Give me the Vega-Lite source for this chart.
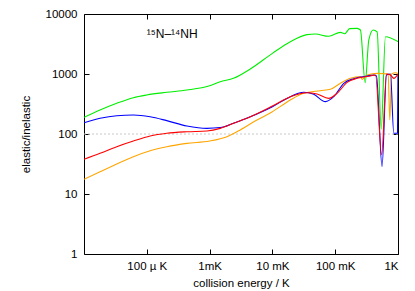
{
  "$schema": "https://vega.github.io/schema/vega-lite/v6.json",
  "width": 314,
  "height": 240,
  "autosize": {"type": "none"},
  "padding": {"left": 84, "top": 14, "right": 17, "bottom": 37},
  "background": "white",
  "config": {
    "view": {"stroke": "black", "strokeWidth": 1},
    "font": "Liberation Sans",
    "axis": {"grid": false, "domain": false, "labelFont": "Liberation Sans", "titleFont": "Liberation Sans", "labelFontSize": 11.5, "titleFontSize": 11.5, "titleFontWeight": "normal", "labelColor": "black", "titleColor": "black", "tickColor": "black", "tickWidth": 1}
  },
  "datasets": {
    "curves": [
      {"s": "s1", "E": 1e-5, "r": 190}, {"s": "s1", "E": 1.8e-5, "r": 251}, {"s": "s1", "E": 3.32e-5, "r": 325}, {"s": "s1", "E": 6.11e-5, "r": 403}, {"s": "s1", "E": 1e-4, "r": 447}, {"s": "s1", "E": 2.08e-4, "r": 495}, {"s": "s1", "E": 4.35e-4, "r": 541}, {"s": "s1", "E": 1e-3, "r": 639}, {"s": "s1", "E": 1.476e-3, "r": 745}, {"s": "s1", "E": 2.4e-3, "r": 847}, {"s": "s1", "E": 4.45e-3, "r": 1212}, {"s": "s1", "E": 0.01, "r": 2208}, {"s": "s1", "E": 0.0193, "r": 3460}, {"s": "s1", "E": 0.0356, "r": 4526}, {"s": "s1", "E": 0.0483, "r": 4642}, {"s": "s1", "E": 0.0787, "r": 4246}, {"s": "s1", "E": 0.121, "r": 4947}, {"s": "s1", "E": 0.142, "r": 4699}, {"s": "s1", "E": 0.17, "r": 5700}, {"s": "s1", "E": 0.223, "r": 5770}, {"s": "s1", "E": 0.252, "r": 5412}, {"s": "s1", "E": 0.3, "r": 717}, {"s": "s1", "E": 0.343, "r": 3690}, {"s": "s1", "E": 0.402, "r": 5412}, {"s": "s1", "E": 0.466, "r": 5012}, {"s": "s1", "E": 0.54, "r": 120}, {"s": "s1", "E": 0.631, "r": 4188}, {"s": "s1", "E": 1.0, "r": 3460},
      {"s": "s2", "E": 1e-5, "r": 17.6}, {"s": "s2", "E": 1.8e-5, "r": 23.5}, {"s": "s2", "E": 3.32e-5, "r": 31.6}, {"s": "s2", "E": 6.11e-5, "r": 41.9}, {"s": "s2", "E": 1.13e-4, "r": 52.7}, {"s": "s2", "E": 2.08e-4, "r": 61.5}, {"s": "s2", "E": 4.35e-4, "r": 69.8}, {"s": "s2", "E": 1e-3, "r": 76.4}, {"s": "s2", "E": 1.89e-3, "r": 90.3}, {"s": "s2", "E": 3.08e-3, "r": 117}, {"s": "s2", "E": 5.68e-3, "r": 171}, {"s": "s2", "E": 0.01, "r": 235}, {"s": "s2", "E": 0.0193, "r": 369}, {"s": "s2", "E": 0.0315, "r": 476}, {"s": "s2", "E": 0.0581, "r": 527}, {"s": "s2", "E": 0.0838, "r": 555}, {"s": "s2", "E": 0.121, "r": 699}, {"s": "s2", "E": 0.175, "r": 847}, {"s": "s2", "E": 0.252, "r": 903}, {"s": "s2", "E": 0.269, "r": 815}, {"s": "s2", "E": 0.323, "r": 962}, {"s": "s2", "E": 0.466, "r": 1023}, {"s": "s2", "E": 0.698, "r": 1000}, {"s": "s2", "E": 0.74, "r": 171}, {"s": "s2", "E": 0.79, "r": 1000}, {"s": "s2", "E": 0.912, "r": 1050}, {"s": "s2", "E": 1.0, "r": 1023},
      {"s": "s3", "E": 1e-5, "r": 154}, {"s": "s3", "E": 1.8e-5, "r": 183}, {"s": "s3", "E": 3.32e-5, "r": 202}, {"s": "s3", "E": 6.11e-5, "r": 207}, {"s": "s3", "E": 1.13e-4, "r": 194}, {"s": "s3", "E": 2.08e-4, "r": 167}, {"s": "s3", "E": 4.35e-4, "r": 136}, {"s": "s3", "E": 9.06e-4, "r": 124}, {"s": "s3", "E": 1.476e-3, "r": 128}, {"s": "s3", "E": 2.4e-3, "r": 151}, {"s": "s3", "E": 4.45e-3, "r": 194}, {"s": "s3", "E": 0.01, "r": 285}, {"s": "s3", "E": 0.0193, "r": 419}, {"s": "s3", "E": 0.0315, "r": 495}, {"s": "s3", "E": 0.0455, "r": 459}, {"s": "s3", "E": 0.0698, "r": 346}, {"s": "s3", "E": 0.0948, "r": 419}, {"s": "s3", "E": 0.137, "r": 699}, {"s": "s3", "E": 0.198, "r": 835}, {"s": "s3", "E": 0.323, "r": 926}, {"s": "s3", "E": 0.411, "r": 962}, {"s": "s3", "E": 0.454, "r": 926}, {"s": "s3", "E": 0.557, "r": 28.6}, {"s": "s3", "E": 0.655, "r": 962}, {"s": "s3", "E": 0.759, "r": 1000}, {"s": "s3", "E": 0.857, "r": 103}, {"s": "s3", "E": 0.982, "r": 103}, {"s": "s3", "E": 1.0, "r": 962},
      {"s": "s4", "E": 1e-5, "r": 37.8}, {"s": "s4", "E": 1.8e-5, "r": 47.6}, {"s": "s4", "E": 3.32e-5, "r": 61.5}, {"s": "s4", "E": 6.11e-5, "r": 76.4}, {"s": "s4", "E": 1.13e-4, "r": 92.6}, {"s": "s4", "E": 2.08e-4, "r": 103}, {"s": "s4", "E": 4.35e-4, "r": 109}, {"s": "s4", "E": 9.06e-4, "r": 112}, {"s": "s4", "E": 1.476e-3, "r": 124}, {"s": "s4", "E": 2.4e-3, "r": 151}, {"s": "s4", "E": 4.45e-3, "r": 194}, {"s": "s4", "E": 0.01, "r": 293}, {"s": "s4", "E": 0.0193, "r": 419}, {"s": "s4", "E": 0.0356, "r": 488}, {"s": "s4", "E": 0.0514, "r": 464}, {"s": "s4", "E": 0.0787, "r": 393}, {"s": "s4", "E": 0.107, "r": 476}, {"s": "s4", "E": 0.155, "r": 726}, {"s": "s4", "E": 0.223, "r": 847}, {"s": "s4", "E": 0.364, "r": 926}, {"s": "s4", "E": 0.438, "r": 962}, {"s": "s4", "E": 0.55, "r": 45}, {"s": "s4", "E": 0.655, "r": 1000}, {"s": "s4", "E": 0.759, "r": 962}, {"s": "s4", "E": 0.857, "r": 847}, {"s": "s4", "E": 1.0, "r": 1000}
    ]
  },
  "resolve": {"axis": {"x": "independent", "y": "independent"}},
  "layer": [
    {
      "data": {"values": [{"v": 100}]},
      "mark": {"type": "rule", "color": "#c8c8c8", "strokeDash": [2, 2], "strokeWidth": 1},
      "encoding": {"y": {"field": "v", "type": "quantitative", "axis": null}}
    },
    {
      "data": {"name": "curves"},
      "mark": {"type": "line", "strokeWidth": 1.1, "clip": true, "interpolate": "monotone"},
      "encoding": {
        "x": {"field": "E", "type": "quantitative", "scale": {"type": "log", "domain": [1e-5, 1], "nice": false},
          "axis": {"orient": "bottom", "ticks": false, "values": [1e-4, 1e-3, 1e-2, 1e-1, 1], "labelExpr": "['10 µK','100 µ K','1mK','10 mK','100 mK','1K'][round(log(datum.value)/LN10)+5]", "labelPadding": 6, "title": "collision energy / K", "titlePadding": 6}},
        "y": {"field": "r", "type": "quantitative", "scale": {"type": "log", "domain": [1, 10000], "nice": false},
          "axis": {"orient": "left", "ticks": false, "values": [1, 10, 100, 1000, 10000], "format": "d", "labelPadding": 7, "title": "elastic/inelastic", "titlePadding": 14}},
        "color": {"field": "s", "type": "nominal", "scale": {"domain": ["s1", "s2", "s3", "s4"], "range": ["#00ee00", "#ffa500", "#0000ff", "#ff0000"]}, "legend": null},
        "order": {"field": "E", "type": "quantitative"}
      }
    },
    {
      "data": {"name": "curves"},
      "mark": {"type": "point", "opacity": 0},
      "encoding": {
        "x": {"field": "E", "type": "quantitative", "axis": {"orient": "top", "labels": false, "title": null, "offset": -5, "tickSize": 5, "values": [1e-4, 1e-3, 1e-2, 1e-1, 1]}},
        "y": {"field": "r", "type": "quantitative", "axis": {"orient": "right", "labels": false, "title": null, "offset": -5, "tickSize": 5, "values": [1, 10, 100, 1000, 10000]}}
      }
    },
    {
      "data": {"name": "curves"},
      "mark": {"type": "point", "opacity": 0},
      "encoding": {
        "x": {"field": "E", "type": "quantitative", "axis": {"orient": "bottom", "labels": false, "title": null, "offset": -5, "tickSize": 5, "values": [1e-4, 1e-3, 1e-2, 1e-1, 1]}},
        "y": {"field": "r", "type": "quantitative", "axis": {"orient": "left", "labels": false, "title": null, "offset": -5, "tickSize": 5, "values": [1, 10, 100, 1000, 10000]}}
      }
    },
    {
      "data": {"values": [{"E": 1e-4, "r": 4700, "label": "¹⁵N–¹⁴NH"}]},
      "mark": {"type": "text", "align": "left", "baseline": "middle", "fontSize": 12, "font": "Liberation Sans", "color": "black"},
      "encoding": {
        "x": {"field": "E", "type": "quantitative", "axis": null},
        "y": {"field": "r", "type": "quantitative", "axis": null},
        "text": {"field": "label"}
      }
    }
  ]
}
